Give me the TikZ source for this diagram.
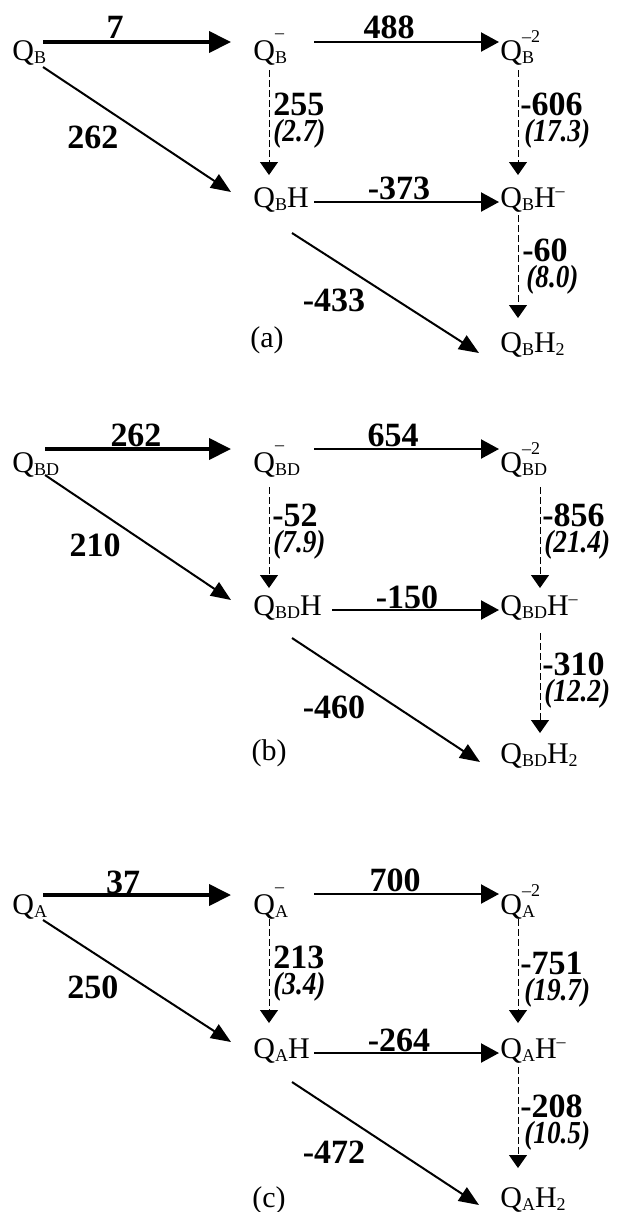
\documentclass[tikz,border=0pt]{standalone}
\usepackage{fontspec}
\setmainfont{Liberation Serif}
\newfontfamily\kfont[FakeStretch=0.85]{Liberation Serif}
\usepackage{tikz}
\usetikzlibrary{arrows.meta}

\newcommand{\sml}{\fontsize{9}{9}\selectfont}
% Q mit tiefgestelltem Index und hochgestellter Ladung
\newcommand{\Qion}[3]{Q\rlap{\raisebox{#3}{\sml #2}}\raisebox{-1.5pt}{\sml #1}}

\tikzset{
  sp/.style={inner sep=0pt, anchor=base west, font=\fontsize{15}{18}\selectfont},
  val/.style={inner sep=0pt, font=\bfseries\fontsize{17}{20}\selectfont},
  kt/.style={inner sep=0pt, anchor=west, font=\kfont\bfseries\itshape\fontsize{16}{18}\selectfont},
  lbl/.style={inner sep=0pt, font=\fontsize{15}{18}\selectfont},
  big/.style={-{Triangle[length=11pt,width=10.5pt]}, line width=2pt},
  fwd/.style={-{Triangle[length=9pt,width=9.5pt]}, line width=1.1pt},
  diag/.style={-{Triangle[length=10pt,width=8pt]}, line width=1pt},
  prot/.style={-{Triangle[length=6.5pt,width=9pt]}, line width=0.5pt, dash pattern=on 3.5pt off 1.5pt},
}

\begin{document}
\begin{tikzpicture}[x=0.5pt, y=-0.5pt]
    \useasboundingbox (0,0) rectangle (618,1212);

    % (a) Q_B
    \node[sp] (qb)   at (12,60)   {Q\raisebox{-1.5pt}{\sml B}};
    \node[sp] (qbm)  at (253,60)  {\Qion{B}{--}{11pt}};
    \node[sp] (qbmm) at (500,60)  {\Qion{B}{--2}{9pt}};
    \node[sp] (qbh)  at (253,207) {Q\raisebox{-1.5pt}{\sml B}H};
    \node[sp] (qbhm) at (500,207) {Q\raisebox{-1.5pt}{\sml B}H\raisebox{5.5pt}{\sml --}};
    \node[sp] (qbhh) at (500,352) {Q\raisebox{-1.5pt}{\sml B}H\raisebox{-1.5pt}{\sml 2}};

    \draw[big]  ([shift={(31,-18)}]qb.base west) -- ([shift={(-22,-18)}]qbm.base west);
    \draw[fwd]  ([shift={(61,-18)}]qbm.base west) -- ([shift={(-1,-18)}]qbmm.base west);
    \draw[fwd]  ([shift={(61,-5)}]qbh.base west) -- ([shift={(-1,-5)}]qbhm.base west);
    \draw[diag] ([shift={(31,7)}]qb.base west) -- ([shift={(-22,-15)}]qbh.base west);
    \draw[diag] ([shift={(39,26)}]qbh.base west) -- ([shift={(-21,1)}]qbhh.base west);
    \draw[prot] ([shift={(16,10)}]qbm.base west) -- ([shift={(16,-32)}]qbh.base west);
    \draw[prot] ([shift={(18,10)}]qbmm.base west) -- ([shift={(18,-32)}]qbhm.base west);
    \draw[prot] ([shift={(18,8)}]qbhm.base west) -- ([shift={(18,-34)}]qbhh.base west);

    \node[val] (a1) at (115,27) {7};
    \node[val] (a2) at (389,27) {488};
    \node[val] (a3) at (93,137) {262};
    \node[val, anchor=west] (a4) at (273,104) {255};
    \node[kt] (a4k) at (273,134) {(2.7)};
    \node[val, anchor=west] (a5) at (520,104) {-606};
    \node[kt] (a5k) at (524,134) {(17.3)};
    \node[val] (a6) at (399,188) {-373};
    \node[val, anchor=west] (a7) at (522,250) {-60};
    \node[kt] (a7k) at (526,280) {(8.0)};
    \node[val] (a8) at (334,300) {-433};
    \node[lbl] (ta) at (267,340) {(a)};

    % (b) Q_BD
    \node[sp] (qd)   at (12,472)  {Q\raisebox{-1.5pt}{\sml BD}};
    \node[sp] (qdm)  at (253,472) {\Qion{BD}{--}{11pt}};
    \node[sp] (qdmm) at (500,472) {\Qion{BD}{--2}{9pt}};
    \node[sp] (qdh)  at (253,615) {Q\raisebox{-1.5pt}{\sml BD}H};
    \node[sp] (qdhm) at (500,615) {Q\raisebox{-1.5pt}{\sml BD}H\raisebox{5.5pt}{\sml --}};
    \node[sp] (qdhh) at (500,763) {Q\raisebox{-1.5pt}{\sml BD}H\raisebox{-1.5pt}{\sml 2}};

    \draw[big]  ([shift={(33,-23)}]qd.base west) -- ([shift={(-22,-23)}]qdm.base west);
    \draw[fwd]  ([shift={(61,-23)}]qdm.base west) -- ([shift={(-1,-23)}]qdmm.base west);
    \draw[fwd]  ([shift={(79,-5)}]qdh.base west) -- ([shift={(-1,-5)}]qdhm.base west);
    \draw[diag] ([shift={(33,3)}]qd.base west) -- ([shift={(-22,-15)}]qdh.base west);
    \draw[diag] ([shift={(39,23)}]qdh.base west) -- ([shift={(-20,-1)}]qdhh.base west);
    \draw[prot] ([shift={(16,15)}]qdm.base west) -- ([shift={(16,-27)}]qdh.base west);
    \draw[prot] ([shift={(40,15)}]qdmm.base west) -- ([shift={(40,-27)}]qdhm.base west);
    \draw[prot] ([shift={(40,18)}]qdhm.base west) -- ([shift={(40,-30)}]qdhh.base west);

    \node[val] (b1) at (136,435) {262};
    \node[val] (b2) at (393,435) {654};
    \node[val] (b3) at (95,545) {210};
    \node[val, anchor=west] (b4) at (272,515) {-52};
    \node[kt] (b4k) at (273,545) {(7.9)};
    \node[val, anchor=west] (b5) at (542,515) {-856};
    \node[kt] (b5k) at (544,545) {(21.4)};
    \node[val] (b6) at (407,597) {-150};
    \node[val, anchor=west] (b7) at (542,664) {-310};
    \node[kt] (b7k) at (544,694) {(12.2)};
    \node[val] (b8) at (334,707) {-460};
    \node[lbl] (tb) at (269,753) {(b)};

    % (c) Q_A
    \node[sp] (qa)   at (12,914)   {Q\raisebox{-1.5pt}{\sml A}};
    \node[sp] (qam)  at (253,914)  {\Qion{A}{--}{11pt}};
    \node[sp] (qamm) at (500,914)  {\Qion{A}{--2}{9pt}};
    \node[sp] (qah)  at (253,1058) {Q\raisebox{-1.5pt}{\sml A}H};
    \node[sp] (qahm) at (500,1058) {Q\raisebox{-1.5pt}{\sml A}H\raisebox{5.5pt}{\sml --}};
    \node[sp] (qahh) at (500,1207) {Q\raisebox{-1.5pt}{\sml A}H\raisebox{-1.5pt}{\sml 2}};

    \draw[big]  ([shift={(31,-19)}]qa.base west) -- ([shift={(-22,-19)}]qam.base west);
    \draw[fwd]  ([shift={(61,-20)}]qam.base west) -- ([shift={(-1,-20)}]qamm.base west);
    \draw[fwd]  ([shift={(61,-5)}]qah.base west) -- ([shift={(-1,-5)}]qahm.base west);
    \draw[diag] ([shift={(31,6)}]qa.base west) -- ([shift={(-22,-16)}]qah.base west);
    \draw[diag] ([shift={(39,24)}]qah.base west) -- ([shift={(-21,-2)}]qahh.base west);
    \draw[prot] ([shift={(16,5)}]qam.base west) -- ([shift={(16,-35)}]qah.base west);
    \draw[prot] ([shift={(18,5)}]qamm.base west) -- ([shift={(18,-35)}]qahm.base west);
    \draw[prot] ([shift={(18,9)}]qahm.base west) -- ([shift={(18,-39)}]qahh.base west);

    \node[val] (c1) at (123,882) {37};
    \node[val] (c2) at (395,880) {700};
    \node[val] (c3) at (93,987) {250};
    \node[val, anchor=west] (c4) at (273,957) {213};
    \node[kt] (c4k) at (273,987) {(3.4)};
    \node[val, anchor=west] (c5) at (520,963) {-751};
    \node[kt] (c5k) at (524,993) {(19.7)};
    \node[val] (c6) at (399,1040) {-264};
    \node[val, anchor=west] (c7) at (520,1106) {-208};
    \node[kt] (c7k) at (524,1136) {(10.5)};
    \node[val] (c8) at (334,1152) {-472};
    \node[lbl] (tc) at (269,1200) {(c)};
\end{tikzpicture}
\end{document}
